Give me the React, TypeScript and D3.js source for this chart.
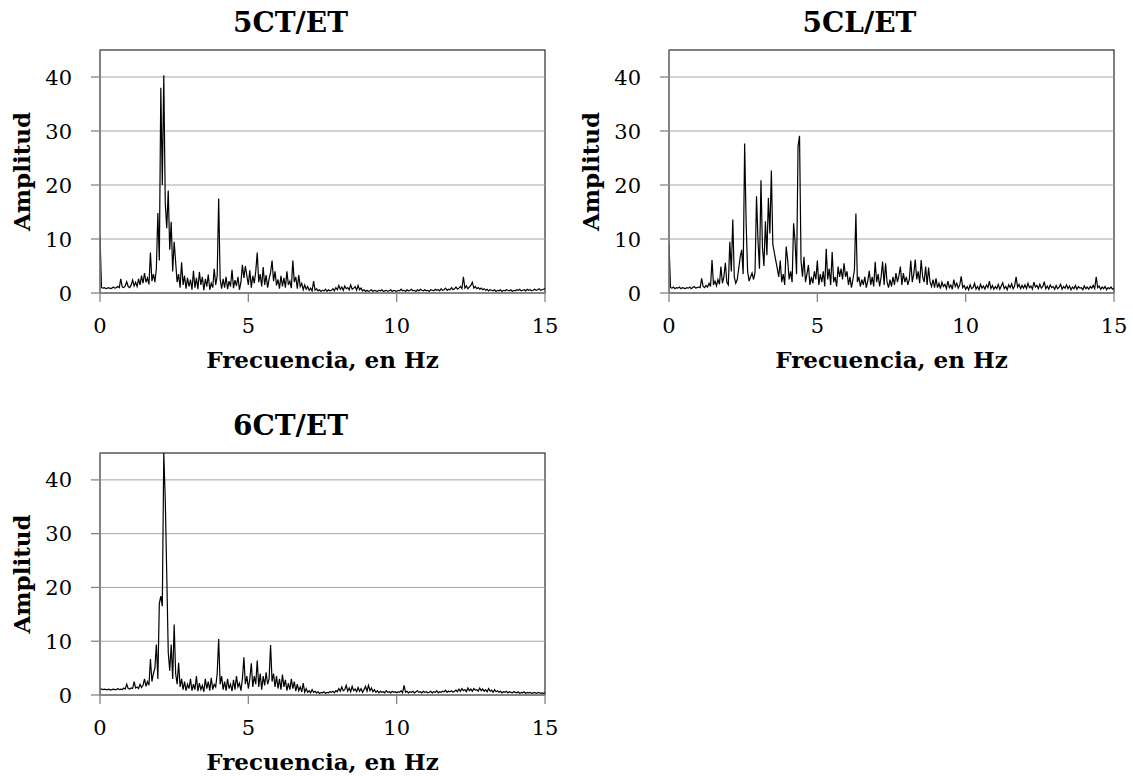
import React from 'react';
import * as d3 from 'd3';

const FREQ_STEP = 0.05;

const amp5CT = [
  10.5, 1.0, 0.9, 1.0, 0.8, 0.9, 1.0, 0.8, 0.9, 1.1, 0.9, 1.0, 1.2, 1.0, 2.6, 1.1, 1.0, 1.3, 2.1, 1.2,
  1.0, 1.5, 2.4, 1.3, 2.0, 1.2, 2.6, 1.5, 3.2, 1.8, 3.7, 2.0, 2.8, 1.6, 7.5, 2.2, 3.5, 2.0, 4.5, 14.8,
  6.0, 38.0, 20.0, 40.3, 16.6, 12.0, 19.0, 8.0, 13.2, 4.0, 9.5, 5.7, 2.0, 3.5, 1.0, 5.7, 1.5, 3.2, 0.8, 2.8,
  1.2, 2.5, 0.6, 4.1, 1.0, 2.8, 0.7, 3.9, 1.5, 3.0, 0.5, 2.6, 1.2, 3.4, 0.6, 1.8, 1.0, 4.5, 1.5, 3.2,
  17.5, 2.5, 0.8, 2.6, 1.0, 3.0, 0.7, 2.2, 1.2, 4.3, 0.9, 2.4, 1.3, 3.0, 0.6, 2.0, 5.2, 2.8, 5.0, 3.2,
  1.5, 4.2, 1.0, 3.2, 1.8, 4.0, 7.5, 2.0, 3.5, 1.2, 4.8, 1.5, 3.3, 1.0, 2.6, 3.8, 6.0, 2.2, 4.0, 1.4,
  2.5, 0.8, 3.2, 1.2, 2.8, 1.0, 4.0, 1.5, 2.2, 0.9, 6.0, 2.0, 3.0, 0.8, 3.3, 1.2, 1.8, 0.6, 1.5, 0.7,
  1.2, 0.5, 0.9, 0.4, 2.2, 0.5, 0.8, 0.4, 0.6, 0.3, 0.5, 0.4, 0.7, 0.3, 0.6, 0.4, 0.5, 0.8, 0.4, 1.0,
  0.6, 1.4, 0.7, 1.1, 0.5, 1.3, 0.8, 1.0, 0.6, 1.5, 0.7, 0.9, 1.2, 0.5, 1.4, 0.6, 0.9, 0.4, 0.6, 0.3,
  0.5, 0.3, 0.4, 0.6, 0.3, 0.5, 0.4, 0.3, 0.5, 0.4, 0.6, 0.3, 0.4, 0.5, 0.3, 0.4, 0.6, 0.3, 0.5, 0.4,
  0.3, 0.5, 0.4, 0.7, 0.4, 0.5, 0.3, 0.6, 0.4, 0.5, 0.7, 0.4, 0.5, 0.3, 0.6, 0.4, 0.7, 0.5, 0.4, 0.6,
  0.4, 0.5, 0.3, 0.6, 0.5, 0.4, 0.7, 0.5, 0.6, 0.4, 0.8, 0.5, 0.6, 0.9, 0.5, 0.7, 0.6, 1.0, 0.6, 0.8,
  1.1, 0.7, 0.9, 1.2, 0.8, 3.0, 0.9, 1.3, 0.8, 1.1, 1.4, 2.0, 0.9, 1.2, 0.8, 1.0, 0.7, 0.9, 0.6, 0.8,
  0.5, 0.7, 0.4, 0.6, 0.5, 0.4, 0.6, 0.3, 0.5, 0.4, 0.6, 0.3, 0.5, 0.4, 0.6, 0.5, 0.4, 0.6, 0.3, 0.5,
  0.4, 0.6, 0.5, 0.7, 0.4, 0.5, 0.6, 0.4, 0.7, 0.5, 0.6, 0.4, 0.5, 0.7, 0.5, 0.6, 0.8, 0.5, 0.6, 0.7, 0.8,
];

const amp5CL = [
  9.2, 1.0, 0.9, 1.1, 0.8, 1.0, 0.9, 1.1, 0.8, 1.0, 0.9, 0.8, 1.0, 0.9, 1.1, 0.8, 1.0, 1.2, 0.9, 1.0,
  1.1, 1.0, 2.7, 1.2, 1.0, 1.4, 1.1, 1.8, 1.2, 6.1, 1.5, 2.2, 1.3, 2.5, 1.6, 4.9, 1.8, 3.0, 5.6, 2.0,
  1.5, 9.5, 4.0, 13.6, 3.0, 1.8, 2.5, 4.5, 6.7, 8.0, 3.5, 27.7, 13.0, 4.0, 2.2, 3.0, 3.7, 2.5, 3.8, 17.9,
  9.7, 4.5, 20.9, 8.5, 5.0, 13.3, 7.0, 17.6, 11.0, 22.7, 9.0, 7.5, 6.0, 4.5, 3.0, 6.0, 2.0, 3.5, 1.5, 8.6,
  6.1, 2.5, 4.0, 2.0, 12.9, 9.5, 3.5, 27.2, 29.1, 6.0, 3.0, 6.7, 2.0, 3.5, 5.2, 1.5, 3.0, 1.8, 4.0, 2.5,
  6.0, 1.5, 3.5, 2.0, 4.0, 1.2, 8.2, 2.5, 4.5, 1.5, 7.6, 2.0, 3.0, 1.2, 4.9, 3.0, 4.5, 2.5, 5.5, 3.0,
  4.0, 1.5, 3.0, 1.0, 2.5, 4.3, 14.7, 2.0, 3.0, 1.2, 2.5, 1.5, 3.0, 1.0, 2.2, 4.1, 1.5, 3.0, 1.2, 5.8,
  2.0, 3.5, 1.2, 3.0, 5.8, 1.5, 5.5, 2.0, 1.0, 2.5, 1.2, 3.0, 1.5, 3.7, 2.0, 3.2, 4.9, 1.5, 3.7, 2.0,
  3.0, 1.5, 2.5, 6.0, 2.0, 3.5, 6.2, 2.5, 4.0, 1.8, 6.1, 3.0, 2.0, 4.9, 1.5, 4.7, 2.0, 1.2, 2.5, 1.0,
  2.7, 1.0, 1.8, 0.8, 2.0, 1.2, 1.6, 0.8, 2.2, 1.0, 1.5, 0.7, 2.5, 1.2, 1.8, 0.9, 1.5, 3.1, 1.0, 1.4,
  0.7, 1.2, 0.6, 1.5, 0.8, 1.0, 1.8, 0.7, 1.2, 0.6, 1.6, 0.9, 1.3, 0.7, 1.5, 1.0, 2.2, 0.8, 1.4, 0.7,
  1.2, 0.8, 1.6, 0.7, 1.3, 1.9, 0.8, 1.2, 0.6, 1.5, 1.0, 1.7, 0.8, 1.3, 3.0, 1.1, 1.6, 0.8, 1.4, 0.9,
  1.5, 0.8, 1.8, 1.0, 1.3, 0.7, 2.0, 1.1, 1.4, 0.8, 1.6, 0.9, 1.2, 2.1, 0.8, 1.3, 0.7, 1.5, 1.0, 1.2,
  0.7, 1.4, 0.8, 1.1, 1.6, 0.7, 1.2, 0.9, 1.5, 0.8, 1.3, 0.6, 1.1, 0.8, 1.4, 0.7, 1.2, 0.9, 1.0, 0.6,
  1.3, 0.8, 1.1, 0.7, 1.2, 0.9, 1.4, 0.8, 3.0, 1.0, 1.3, 0.7, 1.1, 0.8, 1.2, 0.6, 1.0, 0.8, 1.1, 0.7, 0.9,
];

const amp6CT = [
  1.2, 1.1, 1.0, 1.1, 1.0, 1.0, 1.1, 0.9, 1.0, 1.1, 1.0, 1.0, 1.2, 1.0, 1.1, 1.0, 1.3, 1.1, 2.0, 1.2,
  1.1, 1.3, 1.2, 2.5, 1.3, 1.5, 1.2, 2.0, 1.4, 1.8, 3.0, 1.6, 2.5, 1.8, 6.7, 2.5, 4.0, 5.0, 9.4, 3.0,
  17.0, 18.4, 16.5, 45.0, 36.3, 22.4, 8.0, 4.5, 9.4, 3.0, 13.1, 4.0, 2.0, 6.0, 1.5, 3.0, 1.0, 2.5, 0.8, 2.0,
  1.2, 3.0, 0.8, 2.0, 1.0, 3.5, 0.7, 2.2, 1.0, 1.8, 0.6, 3.0, 1.2, 2.5, 0.8, 3.2, 1.0, 2.0, 1.5, 4.0,
  10.4, 2.0, 3.5, 1.0, 2.5, 0.8, 3.0, 1.2, 2.0, 0.7, 2.8, 1.0, 3.5, 1.5, 2.2, 0.8, 3.0, 7.0, 2.0, 3.5,
  1.2, 3.0, 5.9, 1.5, 3.5, 2.0, 6.4, 1.5, 4.0, 1.0, 3.5, 1.8, 4.2, 2.0, 3.0, 9.3, 2.5, 4.0, 1.5, 3.5,
  1.2, 3.0, 1.0, 3.8, 1.5, 2.8, 0.8, 2.2, 1.0, 3.0, 1.2, 2.5, 0.7, 2.0, 0.8, 1.5, 0.6, 2.2, 0.5, 1.2,
  0.5, 0.8, 0.4, 1.0, 0.5, 0.7, 0.4, 0.6, 0.3, 0.5, 0.4, 0.6, 0.3, 0.5, 0.4, 0.6, 0.5, 0.7, 0.4, 0.8,
  0.6, 1.2, 0.7, 1.5, 0.8, 1.0, 1.8, 0.7, 1.3, 0.6, 1.6, 0.8, 1.1, 0.6, 1.4, 0.7, 1.2, 0.5, 1.0, 1.6,
  0.7, 1.8, 0.8, 1.3, 0.6, 1.0, 0.5, 0.8, 0.4, 0.7, 0.5, 0.6, 0.4, 0.8, 0.5, 0.6, 0.4, 0.7, 0.5, 0.6,
  0.4, 0.6, 0.5, 0.8, 0.4, 1.8, 0.5, 0.7, 0.4, 0.6, 0.5, 0.7, 0.4, 0.6, 0.8, 0.5, 0.6, 0.4, 0.7, 0.5,
  0.6, 0.4, 0.5, 0.7, 0.4, 0.6, 0.5, 0.8, 0.4, 0.6, 0.5, 0.7, 0.6, 0.9, 0.5, 0.7, 0.6, 0.8, 0.5, 0.7,
  0.9, 0.6, 1.1, 0.7, 1.2, 0.8, 1.0, 0.6, 1.3, 0.8, 1.1, 0.7, 1.2, 0.9, 1.0, 0.7, 1.3, 0.8, 1.1, 0.7,
  1.0, 0.6, 1.2, 0.7, 0.9, 0.5, 1.0, 0.6, 0.8, 0.5, 0.7, 0.4, 0.6, 0.5, 0.7, 0.4, 0.6, 0.5, 0.4, 0.6,
  0.5, 0.4, 0.6, 0.3, 0.5, 0.4, 0.6, 0.3, 0.5, 0.4, 0.5, 0.3, 0.4, 0.5, 0.3, 0.4, 0.5, 0.3, 0.4, 0.3, 0.4,
];

const xTicks = [0, 5, 10, 15];
const yTicks = [0, 10, 20, 30, 40];
const X_TITLE = 'Frecuencia, en Hz';
const Y_TITLE = 'Amplitud';

const FONT = '"Palatino Linotype", "Book Antiqua", Palatino, "DejaVu Serif", serif';

interface PanelProps {
  id: string;
  title: string;
  values: number[];
  left: number;
  right: number;
  top: number;
  bottom: number;
}

const Panel: React.FC<PanelProps> = ({ id, title, values, left, right, top, bottom }) => {
  const x = d3.scaleLinear().domain([0, 15]).range([left, right]);
  const y = d3.scaleLinear().domain([0, 45]).range([bottom, top]);

  const line = d3.line<number>()
    .x((_, i) => x(i * FREQ_STEP))
    .y(d => y(d));

  const cx = (left + right) / 2;

  return (
    <g>
      <defs>
        <clipPath id={`clip-${id}`}>
          <rect x={left} y={top} width={right - left} height={bottom - top} />
        </clipPath>
      </defs>
      <rect x={left} y={top} width={right - left} height={bottom - top} fill="#fff" stroke="#000" strokeWidth={1} />
      {yTicks.filter(t => t > 0).map(t => (
        <line key={t} x1={left} x2={right} y1={y(t)} y2={y(t)} stroke="#a6a6a6" strokeWidth={1} />
      ))}
      <path d={line(values) || ''} fill="none" stroke="#000" strokeWidth={1.2} clipPath={`url(#clip-${id})`} />
      {/* axes */}
      <line x1={left} x2={left} y1={top} y2={bottom} stroke="#868686" strokeWidth={1.3} />
      <line x1={left} x2={right} y1={bottom} y2={bottom} stroke="#868686" strokeWidth={1.3} />
      {yTicks.map(t => (
        <g key={t}>
          <line x1={left - 9} x2={left} y1={y(t)} y2={y(t)} stroke="#868686" strokeWidth={1.3} />
          <text x={left - 28} y={y(t)} dy="0.36em" textAnchor="end" fontSize={21} fontFamily={FONT}>{t}</text>
        </g>
      ))}
      {xTicks.map(t => (
        <g key={t}>
          <line x1={x(t)} x2={x(t)} y1={bottom} y2={bottom + 9} stroke="#868686" strokeWidth={1.3} />
          <text x={x(t)} y={bottom + 40} textAnchor="middle" fontSize={21} fontFamily={FONT}>{t}</text>
        </g>
      ))}
      <text x={cx} y={bottom + 75} textAnchor="middle" fontSize={23} fontWeight="bold" fontFamily={FONT}>{X_TITLE}</text>
      <text transform={`translate(${left - 70},${(top + bottom) / 2}) rotate(-90)`} textAnchor="middle"
        fontSize={23} fontWeight="bold" fontFamily={FONT}>{Y_TITLE}</text>
      <text x={cx - 32} y={top - 18} textAnchor="middle" fontSize={28} fontWeight="bold" fontFamily={FONT}>{title}</text>
    </g>
  );
};

export default function App() {
  return (
    <svg width={1133} height={776} style={{ position: 'absolute', left: 0, top: 0, background: '#fff' }}>
      <rect width={1133} height={776} fill="#fff" />
      <Panel id="p1" title="5CT/ET" values={amp5CT} left={100} right={545} top={50} bottom={293} />
      <Panel id="p2" title="5CL/ET" values={amp5CL} left={669} right={1114} top={50} bottom={293} />
      <Panel id="p3" title="6CT/ET" values={amp6CT} left={100} right={545} top={453} bottom={695} />
    </svg>
  );
}
